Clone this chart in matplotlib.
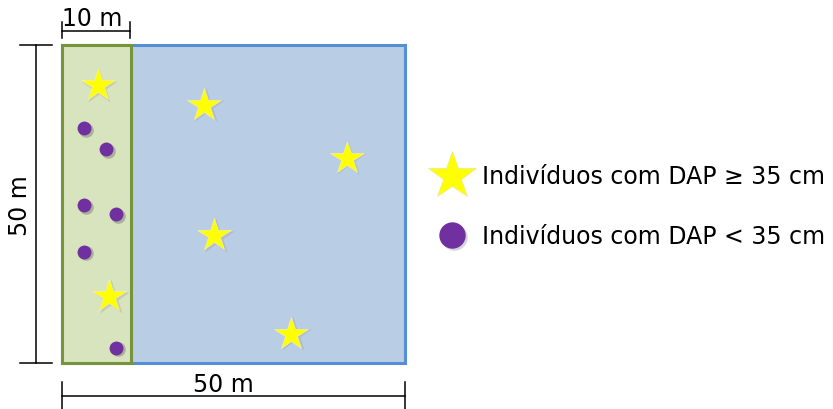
import matplotlib
matplotlib.use("Agg")
import matplotlib.pyplot as plt
from matplotlib.patches import Rectangle
import matplotlib.transforms as mtransforms

plt.rcParams['font.family'] = ['DejaVu Sans']

# ---- data (meters) ----
plot_size = 50
strip_width = 10
star_x = [5.2, 20.7, 41.5, 22.2, 6.9, 33.4]
star_y = [43.7, 40.6, 32.3, 20.1, 10.5, 4.6]
dot_x = [3.2, 6.4, 3.2, 7.9, 3.2, 7.9]
dot_y = [36.9, 33.6, 24.8, 23.4, 17.5, 2.4]
legend_labels = ["Indivíduos com DAP ≥ 35 cm", "Indivíduos com DAP < 35 cm"]
dim_labels = ["10 m", "50 m", "50 m"]

W, H = 833, 410
fig = plt.figure(figsize=(W / 100, H / 100), dpi=100)
ax = fig.add_axes([62 / W, (H - 364) / H, 343 / W, 318 / H])
ax.set_xlim(0, plot_size)
ax.set_ylim(0, plot_size)
ax.axis('off')

blue_fill, blue_edge = '#B9CDE4', '#558ED5'
green_fill, green_edge = '#D7E4BD', '#77933C'
ax.add_patch(Rectangle((0, 0), plot_size, plot_size, facecolor=blue_fill,
                       edgecolor=blue_edge, lw=2.2, clip_on=False, zorder=1))
ax.add_patch(Rectangle((0, 0), strip_width, plot_size, facecolor=green_fill,
                       edgecolor=green_edge, lw=2.2, clip_on=False, zorder=2))

shadow = mtransforms.offset_copy(ax.transData, fig=fig, x=1.2, y=-1.2, units='points')
ax.plot(star_x, star_y, ls='none', marker='*', ms=27, color='#9a9a9a', alpha=0.3,
        mec='none', transform=shadow, zorder=3)
ax.plot(star_x, star_y, ls='none', marker='*', ms=25, color='#FFFF00',
        mec='#F2F2A0', mew=0.5, zorder=4)
ax.plot(dot_x, dot_y, ls='none', marker='o', ms=10.5, color='#555555', alpha=0.35,
        mec='none', transform=shadow, zorder=3)
ax.plot(dot_x, dot_y, ls='none', marker='o', ms=10, color='#7030A0', mec='none', zorder=4)

# ---- dimension lines (figure pixel helper) ----
def fx(px):
    return px / W

def fy(py):
    return (H - py) / H

def fline(x0, y0, x1, y1):
    fig.add_artist(plt.Line2D([fx(x0), fx(x1)], [fy(y0), fy(y1)], color='black', lw=1.1))

# top: 10 m
fline(62, 32, 130, 32)
fline(62, 23, 62, 39)
fline(130, 23, 130, 39)
fig.text(fx(92), fy(19), dim_labels[0], ha='center', va='center', fontsize=17)
# bottom: 50 m
fline(62, 397, 405, 397)
fline(62, 383, 62, 410)
fline(405, 383, 405, 410)
fig.text(fx(223), fy(385), dim_labels[1], ha='center', va='center', fontsize=17)
# left: 50 m
fline(36, 46, 36, 364)
fline(20, 46, 52, 46)
fline(20, 364, 52, 364)
fig.text(fx(20), fy(206), dim_labels[2], ha='center', va='center', fontsize=17, rotation=90)

# ---- legend ----
fig.add_artist(plt.Line2D([fx(452)], [fy(177)], ls='none', marker='*', ms=36,
                          color='#FFFF00', mec='#E8E8A0', mew=0.5))
fig.add_artist(plt.Line2D([fx(454)], [fy(238)], ls='none', marker='o', ms=19,
                          color='#999999', alpha=0.4, mec='none'))
fig.add_artist(plt.Line2D([fx(452)], [fy(236)], ls='none', marker='o', ms=19,
                          color='#7030A0', mec='none'))
fig.text(fx(482), fy(177), legend_labels[0], ha='left', va='center', fontsize=17)
fig.text(fx(482), fy(237), legend_labels[1], ha='left', va='center', fontsize=17)

fig.savefig('out.png', dpi=100, facecolor='white')
